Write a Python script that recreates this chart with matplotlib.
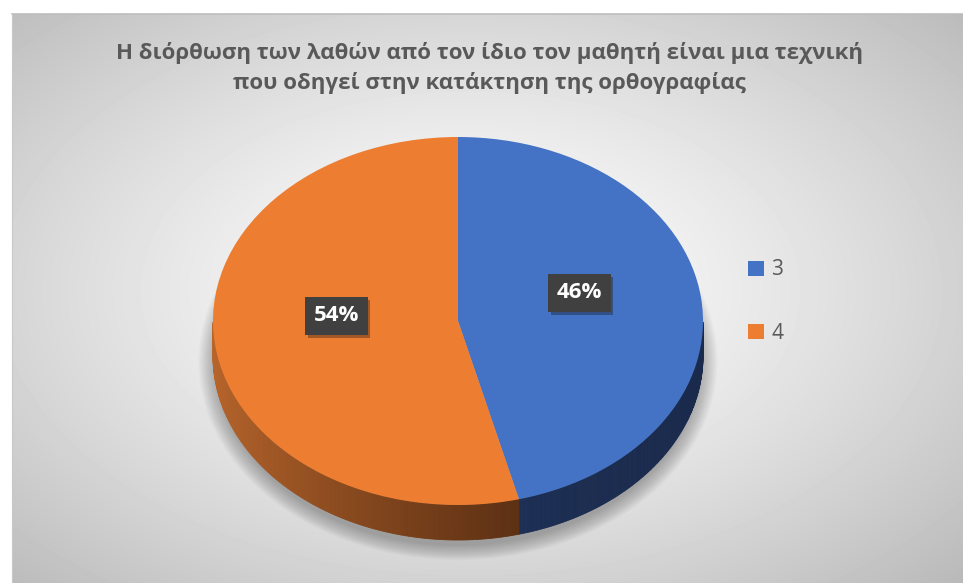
import numpy as np
import matplotlib.pyplot as plt
from matplotlib.patches import Polygon, Ellipse
from matplotlib import patheffects

labels = ['3', '4']
values = [46, 54]
colors = ['#4472C4', '#ED7D31']
# side colours of each slice: (front/right end, back/left end)
side_colors = [('#1A2A4C', '#1D2F55'), ('#5C3013', '#B8652B')]
title = ('Η διόρθωση των λαθών από τον ίδιο τον μαθητή είναι μια τεχνική\n'
         'που οδηγεί στην κατάκτηση της ορθογραφίας')

plt.rcParams['font.family'] = ['Open Sans', 'DejaVu Sans']

W, H = 963, 583
fig = plt.figure(figsize=(W / 100, H / 100), dpi=100)

# background with a soft radial gradient
bg = fig.add_axes([0, 0, 1, 1])
bg.set_xlim(0, W)
bg.set_ylim(H, 0)
bg.axis('off')
x0, y0 = 12, 14
yy, xx = np.mgrid[y0:H, x0:W]
dx = (xx - 470) / 480.
dy = (yy - 290) / 290.
r = np.sqrt(dx ** 2 + dy ** 2) / np.sqrt(2)
v = 1 - 0.27 * np.clip(r, 0, 1) ** 1.3
bg.imshow(v, cmap='gray', vmin=0, vmax=1, extent=(x0, W, H, y0),
          aspect='auto', interpolation='bilinear')
bg.plot([x0, W], [y0, y0], color='#BDBDBD', lw=1.2)
bg.plot([x0, x0], [y0, H], color='#C8C8C8', lw=0.8)

# pie axes: unit circle squashed into an ellipse
cx, cy, rx, ry, depth = 458, 321, 245, 184, 35
ax = fig.add_axes([0, 0, 1, 1])
ax.patch.set_alpha(0)
wedges, texts, autotexts = ax.pie(
    values, colors=colors, startangle=90, counterclock=False,
    autopct='%.0f%%', pctdistance=0.5,
    wedgeprops=dict(linewidth=0, zorder=5),
    textprops=dict(color='white', fontsize=16, fontweight='bold'))
ax.set_aspect('auto')
ax.set_xlim(-cx / rx, (W - cx) / rx)
ax.set_ylim((cy - H) / ry, cy / ry)
ax.axis('off')
d = depth / ry

# soft shadow under the pie
for k in np.linspace(0.0, 1.0, 18):
    ax.add_patch(Ellipse((0.0, -0.22), 2 * (0.99 + 0.07 * k), 2 * (1.0 + 0.08 * k),
                         color='black', alpha=0.017, lw=0, zorder=1))

# 3d side of each slice
for w, (c_front, c_back) in zip(wedges, side_colors):
    ang = np.radians(np.linspace(w.theta1, w.theta2, 300))
    ang = ang[np.sin(ang) < 0]
    if len(ang) < 2:
        continue
    cf = np.array(plt.matplotlib.colors.to_rgb(c_front))
    cb = np.array(plt.matplotlib.colors.to_rgb(c_back))
    xs = np.cos(ang)
    span = xs.max() - xs.min()
    for a1, a2 in zip(ang[:-1], ang[1:]):
        t = (np.cos(a1) - xs.min()) / span if span else 0
        t = t ** 0.8
        col = cb * (1 - t) + cf * t
        pts = [(np.cos(a1), np.sin(a1)), (np.cos(a2), np.sin(a2)),
               (np.cos(a2), np.sin(a2) - d), (np.cos(a1), np.sin(a1) - d)]
        ax.add_patch(Polygon(pts, closed=True, fc=col, ec=col, lw=0.6, zorder=3))

# data labels in dark boxes
for t in autotexts:
    x, y = t.get_position()
    t.set_position((x, y + 0.09))
    t.set_zorder(8)
    t.set_bbox(dict(boxstyle='square,pad=0.38', fc='#404040', ec='none'))
    t.get_bbox_patch().set_path_effects(
        [patheffects.withSimplePatchShadow(offset=(2, -2), alpha=0.35)])

leg = ax.legend(wedges, labels, loc='upper left', frameon=False,
                bbox_to_anchor=(738 / W, 1 - 249 / H), bbox_transform=fig.transFigure,
                fontsize=15, labelcolor='#595959', handlelength=0.75,
                handleheight=0.75, handletextpad=0.35, labelspacing=2.05,
                borderpad=0)

fig.text(489 / W, 1 - 68 / H, title, ha='center', va='center', fontsize=16,
         fontweight='bold', color='#595959', linespacing=1.45)

fig.savefig('out.png', dpi=100)
